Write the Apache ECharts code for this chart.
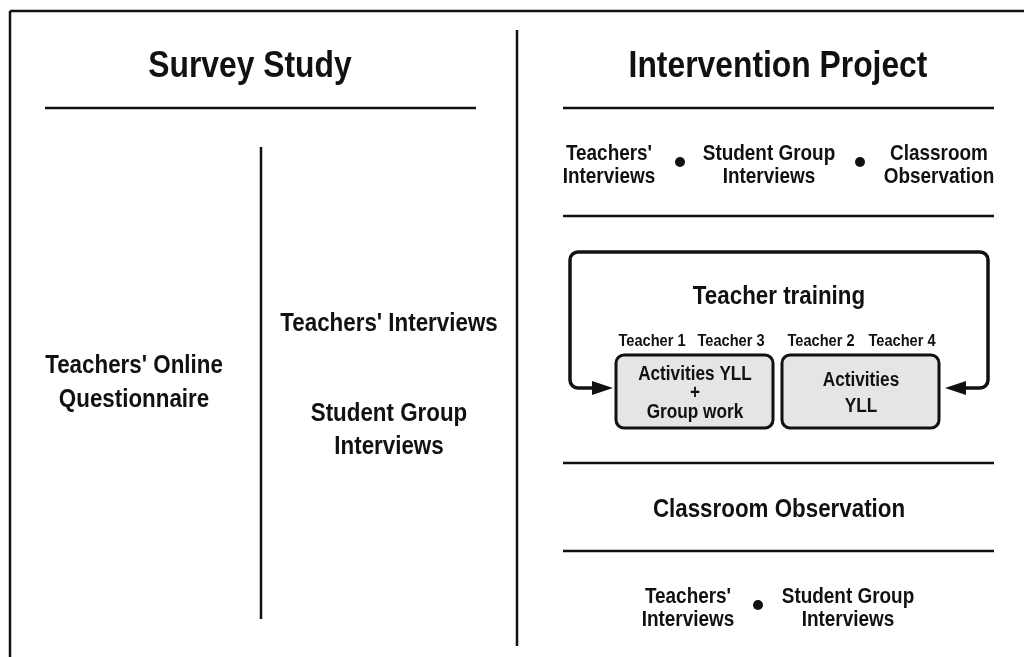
<!DOCTYPE html>
<html><head><meta charset="utf-8">
<script src="https://cdn.jsdelivr.net/npm/echarts@6/dist/echarts.min.js"></script>
<style>html,body{margin:0;padding:0;background:#fff}#c{width:1024px;height:657px}</style>
</head><body><div id="c"></div>
<script>
// ---- content (text only) ----
const panelTitles = ["Survey Study", "Intervention Project"];
const surveyLeft = ["Teachers' Online", "Questionnaire"];
const surveyRight = [["Teachers' Interviews"], ["Student Group", "Interviews"]];
const topMethods = [["Teachers'", "Interviews"], ["Student Group", "Interviews"], ["Classroom", "Observation"]];
const trainingTitle = "Teacher training";
const teacherLabels = ["Teacher 1", "Teacher 3", "Teacher 2", "Teacher 4"];
const activityBoxes = [["Activities YLL", "+", "Group work"], ["Activities", "YLL"]];
const observationLabel = "Classroom Observation";
const bottomMethods = [["Teachers'", "Interviews"], ["Student Group", "Interviews"]];

// ---- layout ----
const FONT = "'Liberation Sans', Arial, sans-serif";
const SX = 0.86;
const INK = '#111';
const g = [];
function line(x1, y1, x2, y2, w) {
  g.push({type: 'line', shape: {x1, y1, x2, y2}, style: {stroke: INK, lineWidth: w || 2.5, lineCap: 'butt'}});
}
function arc(cx, cy, r, a0, a1, w) {
  g.push({type: 'arc', shape: {cx, cy, r, startAngle: a0, endAngle: a1, clockwise: true},
    style: {stroke: INK, lineWidth: w, fill: null}});
}
function text(str, x, y, size, lh) {
  g.push({type: 'text', x, y: y + 2, scaleX: SX, style: {text: str, font: 'bold ' + size + 'px ' + FONT, fill: INK,
    textAlign: 'center', textVerticalAlign: 'middle', lineHeight: lh || Math.round(size * 1.15)}});
}
function dot(x, y) {
  g.push({type: 'circle', shape: {cx: x, cy: y, r: 5}, style: {fill: INK}});
}

// frame
line(10, 11, 1024, 11, 2.5);
line(10, 11, 10, 657, 2.5);
line(517, 30, 517, 646, 2.5);

// left panel
text(panelTitles[0], 250, 65, 37);
line(45, 108, 476, 108, 2.5);
line(261, 147, 261, 619, 2.5);
text(surveyLeft.join('\n'), 134, 381, 26, 34);
text(surveyRight[0].join('\n'), 389, 322, 26);
text(surveyRight[1].join('\n'), 389, 428, 26, 33);

// right panel
text(panelTitles[1], 778, 65, 37);
line(563, 108, 994, 108, 2.5);
line(563, 216, 994, 216, 2.5);
line(563, 463, 994, 463, 2.5);
line(563, 551, 994, 551, 2.5);

const topX = [609, 769, 939];
topMethods.forEach((t, i) => text(t.join('\n'), topX[i], 163, 22, 23));
dot(680, 162); dot(860, 162);

// training loop
const LW = 3.5, R = 8, L = 570, RT = 988, T = 252, B = 388;
line(L, T + R, L, B - R, LW);
line(RT, T + R, RT, B - R, LW);
line(L + R, T, RT - R, T, LW);
arc(L + R, T + R, R, Math.PI, Math.PI * 1.5, LW);
arc(RT - R, T + R, R, -Math.PI / 2, 0, LW);
arc(RT - R, B - R, R, 0, Math.PI / 2, LW);
arc(L + R, B - R, R, Math.PI / 2, Math.PI, LW);
line(L + R, B, 596, B, LW);
line(RT - R, B, 962, B, LW);
g.push({type: 'polygon', shape: {points: [[613, B], [592, B - 7], [592, B + 7]]}, style: {fill: INK}});
g.push({type: 'polygon', shape: {points: [[945, B], [966, B - 7], [966, B + 7]]}, style: {fill: INK}});
text(trainingTitle, 779, 295, 26);

const tX = [652, 731, 821, 902];
teacherLabels.forEach((t, i) => text(t, tX[i], 339, 17));

const boxX = [616, 782];
activityBoxes.forEach((b, i) => {
  g.push({type: 'rect', shape: {x: boxX[i], y: 355, width: 157, height: 73, r: 8},
    style: {fill: '#e5e5e5', stroke: INK, lineWidth: 3}});
  text(b.join('\n'), boxX[i] + 79, 391, 20, b.length === 3 ? 19 : 26);
});

text(observationLabel, 779, 508, 26);

const botX = [688, 848];
bottomMethods.forEach((t, i) => text(t.join('\n'), botX[i], 606, 22, 23));
dot(758, 605);

const chart = echarts.init(document.getElementById('c'), null, {renderer: 'canvas'});
chart.setOption({animation: false, graphic: {elements: g}});
</script></body></html>
